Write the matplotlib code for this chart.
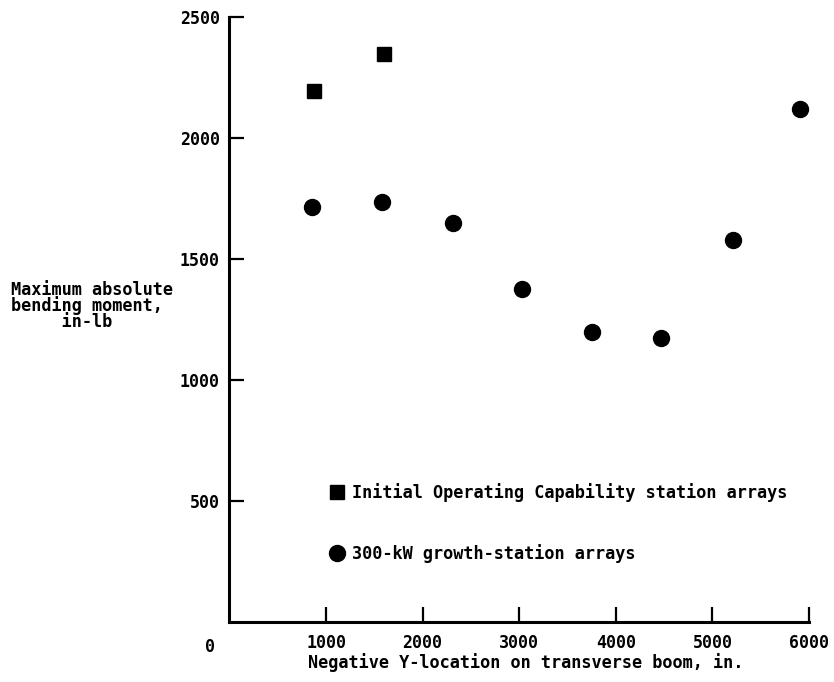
import matplotlib
matplotlib.use("Agg")
import matplotlib.pyplot as plt
from matplotlib.lines import Line2D

# Data
ioc_x = [876, 1604]
ioc_y = [2195, 2348]
growth_x = [850, 1580, 2310, 3030, 3750, 4470, 5210, 5910]
growth_y = [1715, 1735, 1650, 1375, 1200, 1175, 1580, 2120]
xticks = [1000, 2000, 3000, 4000, 5000, 6000]
yticks = [500, 1000, 1500, 2000, 2500]
legend_labels = ["Initial Operating Capability station arrays",
                 "300-kW growth-station arrays"]

plt.rcParams['font.family'] = ['DejaVu Sans Mono']
plt.rcParams['font.weight'] = 'bold'
plt.rcParams['axes.labelweight'] = 'bold'
FS = 12.2

W, H = 834, 682
fig = plt.figure(figsize=(W / 100, H / 100), dpi=100)
x0, x1, y0, y1 = 229.4, 809, 17, 622
ax = fig.add_axes([x0 / W, 1 - y1 / H, (x1 - x0) / W, (y1 - y0) / H])

ax.plot(ioc_x, ioc_y, linestyle='none', marker='s', ms=10.5, color='black')
ax.plot(growth_x, growth_y, linestyle='none', marker='o', ms=11.5, color='black')

ax.set_xlim(0, 6000)
ax.set_ylim(0, 2500)
ax.set_xticks(xticks)
ax.set_yticks(yticks)
ax.tick_params(axis='both', direction='in', length=11, width=1.6, labelsize=12)
ax.tick_params(axis='x', pad=9)
ax.tick_params(axis='y', pad=7)
for s in ['top', 'right']:
    ax.spines[s].set_visible(False)
for s in ['left', 'bottom']:
    ax.spines[s].set_linewidth(2.2)

ax.annotate('0', xy=(0, 0), xycoords='data', xytext=(-19, -25),
            textcoords='offset pixels', ha='center', va='center', fontsize=12)

ax.set_xlabel('Negative Y-location on transverse boom, in.', fontsize=FS)
ax.xaxis.set_label_coords((526 - x0) / (x1 - x0), (y1 - 663) / (y1 - y0))
ax.xaxis.label.set_va('center')

fig.text(11 / W, 1 - 306 / H, "Maximum absolute\nbending moment,\n     in-lb",
         ha='left', va='center', multialignment='left', fontsize=FS, linespacing=0.82)

handles = [Line2D([], [], linestyle='none', marker='s', ms=10.5, color='black'),
           Line2D([], [], linestyle='none', marker='o', ms=11.5, color='black')]
leg = ax.legend(handles, legend_labels, loc='upper left', frameon=False,
                bbox_to_anchor=((330 - x0) / (x1 - x0), (y1 - 483) / (y1 - y0)),
                handlelength=0.8, handletextpad=0.5, labelspacing=2.5,
                borderaxespad=0, borderpad=0, fontsize=FS)

fig.savefig('out.png', dpi=100, facecolor='white')
